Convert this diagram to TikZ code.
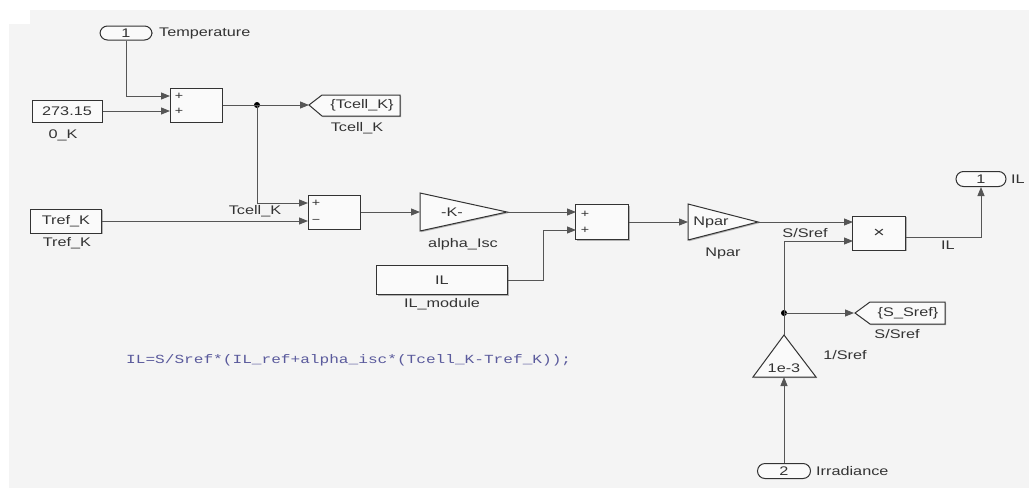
\documentclass[tikz,border=0pt]{standalone}
\usepackage{fontspec}
\setmainfont{Liberation Sans}[FakeStretch=1.3]
\setmonofont{Liberation Mono}[FakeStretch=1.3]
\usetikzlibrary{arrows.meta,calc,shadows}
\definecolor{bg}{HTML}{F4F4F4}
\definecolor{blkfill}{HTML}{FAFAFA}
\definecolor{edge}{HTML}{333333}
\definecolor{wire}{HTML}{555555}
\definecolor{txt}{HTML}{333333}
\definecolor{codeblue}{HTML}{5A5A9C}
\tikzset{
  lbl/.style={font=\fontsize{12.5}{14}\selectfont, text=txt, inner sep=0pt},
  blk/.style={draw=edge, line width=1pt, fill=blkfill, inner sep=0pt,
    font=\fontsize{12.5}{14}\selectfont, text=txt,
    drop shadow={shadow xshift=1.2pt, shadow yshift=-1.2pt, fill=black!30, opacity=1}},
  port/.style={draw=edge, line width=1pt, fill=blkfill, rounded corners=7.5pt, inner sep=0pt,
    font=\fontsize{12.5}{14}\selectfont, text=txt},
  shp/.style={draw=edge, line width=1pt, fill=blkfill,
    drop shadow={shadow xshift=1.2pt, shadow yshift=-1.2pt, fill=black!30, opacity=1}},
  sig/.style={draw=wire, line width=0.9pt, -{Triangle[length=9pt,width=7pt]}},
  wire/.style={draw=wire, line width=0.9pt},
  dot/.style={circle, fill=black, inner sep=0pt, minimum size=6pt},
  sgn/.style={font=\fontsize{11}{12}\selectfont, text=txt, inner sep=0pt},
}
\begin{document}
\begin{tikzpicture}[x=1pt,y=-1pt]
\useasboundingbox (0,0) rectangle (1029,488);
\fill[white] (0,0) rectangle (1029,488);
\fill[bg] (9,10) rectangle (1029,488);
\fill[white] (9,10) rectangle (30,24);

% Temperature inport
\node[port, minimum width=52pt, minimum height=14pt] (in1) at (126,33) {1};
\node[lbl, anchor=west] (in1l) at (159,33) {Temperature};

% Constant 0_K
\node[blk, minimum width=70pt, minimum height=22pt] (k0) at (67,111) {273.15};
\node[lbl] (k0l) at (63,135) {0\_K};

% Sum1
\node[blk, minimum width=52pt, minimum height=34pt] (sum1) at (196,105) {};
\coordinate (s1a) at (170,96);
\coordinate (s1b) at (170,111);
\node[sgn] (s1p1) at (179,96) {+};
\node[sgn] (s1p2) at (179,111) {+};

% Goto Tcell_K
\draw[shp] (309,105) -- (322,95) -- (400,95) -- (400,116) -- (322,116) -- cycle;
\coordinate (gT) at (309,105);
\node[lbl] (gTt) at (362,105) {\{Tcell\_K\}};
\node[lbl] (gTl) at (357,128) {Tcell\_K};

% junction 1
\node[dot] (j1) at (257,105) {};

% Tref_K
\node[blk, minimum width=71pt, minimum height=24pt] (tref) at (66,221) {Tref\_K};
\node[lbl] (trefl) at (67,243) {Tref\_K};

% Sum2
\node[blk, minimum width=52pt, minimum height=34pt] (sum2) at (334,212) {};
\coordinate (s2a) at (308,203);
\coordinate (s2b) at (308,221);
\node[sgn] (s2p1) at (316,203) {+};
\node[sgn] (s2p2) at (316,221) {\textminus};
\node[lbl] (tcl) at (255,211) {Tcell\_K};

% Gain alpha_Isc
\draw[shp] (420,193) -- (507,212) -- (420,231) -- cycle;
\coordinate (gAin) at (420,212);
\coordinate (gAout) at (507,212);
\node[lbl] (gA) at (452,212) {-K-};
\node[lbl] (gAl) at (463,244) {alpha\_Isc};

% IL_module
\node[blk, minimum width=131pt, minimum height=29pt] (ilm) at (442,280) {IL};
\node[lbl] (ilml) at (442,304) {IL\_module};

% Sum3
\node[blk, minimum width=53pt, minimum height=35pt] (sum3) at (602,222) {};
\coordinate (s3a) at (576,212);
\coordinate (s3b) at (576,230);
\node[sgn] (s3p1) at (585,214) {+};
\node[sgn] (s3p2) at (585,230) {+};

% Npar gain
\draw[shp] (688,204) -- (758,222) -- (688,240) -- cycle;
\coordinate (gNin) at (688,222);
\coordinate (gNout) at (758,222);
\node[lbl] (gN) at (711,222) {Npar};
\node[lbl] (gNl) at (723,253) {Npar};

% Product
\node[blk, minimum width=53pt, minimum height=34pt, font=\fontsize{15}{16}\selectfont] (prod) at (879,233) {×};
\coordinate (pa) at (853,222);
\coordinate (pb) at (853,241);
\coordinate (pout) at (906,237);
\node[lbl] (ssl) at (805,233) {S/Sref};

% Outport IL
\node[port, minimum width=50pt, minimum height=15pt] (out1) at (981,179) {1};
\node[lbl, anchor=west] (out1l) at (1011,179) {IL};
\node[lbl] (ill) at (948,245) {IL};

% junction 2 and goto S_Sref
\node[dot] (j2) at (784,313) {};
\draw[shp] (855,313) -- (870,302) -- (945,302) -- (945,324) -- (870,324) -- cycle;
\coordinate (gS) at (854,313);
\node[lbl] (gSt) at (908,313) {\{S\_Sref\}};
\node[lbl] (gSl) at (897,334) {S/Sref};

% Gain 1/Sref
\draw[shp] (753,377) -- (784,335) -- (816,377) -- cycle;
\coordinate (gSin) at (784,377);
\coordinate (gSout) at (784,335);
\node[lbl] (gSr) at (784,368) {1e-3};
\node[lbl] (gSrl) at (845,355) {1/Sref};

% Irradiance inport
\node[port, minimum width=53pt, minimum height=15pt] (in2) at (784,471) {2};
\node[lbl, anchor=west] (in2l) at (816,471) {Irradiance};

% Equation
\node[anchor=west, inner sep=0pt, text=codeblue, font=\ttfamily\fontsize{12.4}{14}\selectfont] (code) at (126,360)
  {IL=S/Sref*(IL\_ref+alpha\_isc*(Tcell\_K-Tref\_K));};

% ---- connectors ----
\draw[sig] (in1.south) |- (s1a);
\draw[sig] (k0.east) -- (s1b);
\draw[wire] (sum1.east) -- (j1.center);
\draw[sig] (j1.center) -- (gT);
\draw[sig] (j1.center) |- (s2a);
\draw[sig] (tref.east) -- (s2b);
\draw[sig] (sum2.east) -- (gAin);
\draw[sig] (gAout) -- (s3a);
\draw[sig] (ilm.east) -- ++(35,0) |- (s3b);
\draw[sig] (sum3.east) -- (gNin);
\draw[sig] (gNout) -- (pa);
\draw[sig] (j2.center) |- (pb);
\draw[sig] (j2.center) -- (gS);
\draw[wire] (gSout) -- (j2.center);
\draw[sig] (in2.north) -- (gSin);
\draw[sig] (pout) -| (out1.south);
\end{tikzpicture}
\end{document}
